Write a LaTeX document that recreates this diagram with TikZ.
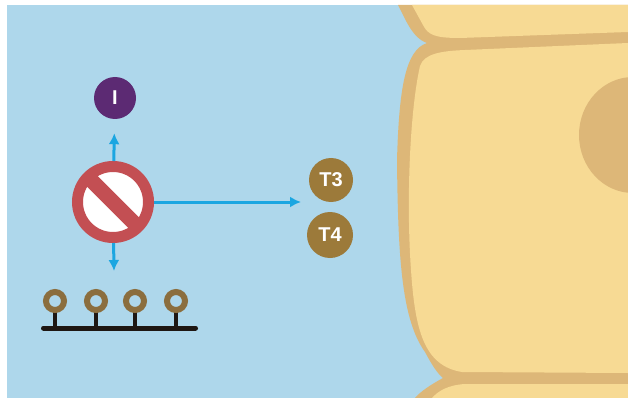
\documentclass[tikz,border=0pt]{standalone}
\usepackage{fontspec}
\setmainfont{Liberation Sans}
\usetikzlibrary{arrows.meta}

\definecolor{fluid}{HTML}{AED7EB}
\definecolor{cellfill}{HTML}{F7DA94}
\definecolor{cellwall}{HTML}{DDB778}
\definecolor{iodine}{HTML}{5C2A73}
\definecolor{stopred}{HTML}{C34F53}
\definecolor{flow}{HTML}{1BA6E1}
\definecolor{hormone}{HTML}{9C7A3A}
\definecolor{ringbrown}{HTML}{8B6E3E}
\definecolor{stem}{HTML}{1E1713}

\tikzset{
    mol/.style={circle, inner sep=0pt, text=white, font=\bfseries\fontsize{20}{20}\selectfont},
    flowarrow/.style={->, flow, line width=3pt},
}

\begin{document}
\begin{tikzpicture}[x=1pt, y=-1pt, >={Latex[length=11pt,width=11pt]}]
    \useasboundingbox (0,0) rectangle (628,398);
    \fill[fluid] (7,5) rectangle (628,398);

    % cell walls first, cell bodies on top of them
    \fill[cellwall] (398,5) .. controls (405,18) and (412,38) .. (427,43)
        .. controls (405,50) and (399,90) .. (397,160)
        .. controls (398,260) and (402,320) .. (425,352)
        .. controls (432,365) and (437,373) .. (443,378)
        .. controls (430,385) and (420,392) .. (415,398)
        -- (628,398) -- (628,5) -- cycle;
    \fill[cellfill] (412,5) -- (423,25) .. controls (428,35) and (435,38) .. (460,38) -- (628,32) -- (628,5) -- cycle;
    \fill[cellfill] (628,43) -- (465,50) .. controls (440,51) and (424,54) .. (420,66)
        .. controls (410,110) and (406,200) .. (411,270)
        .. controls (415,330) and (424,366) .. (462,372) -- (628,373) -- cycle;
    \fill[cellfill] (628,384) -- (465,384) .. controls (448,385) and (438,391) .. (432,398) -- (628,398) -- cycle;
    \begin{scope}
        \clip (0,0) rectangle (628,398);
        \fill[cellwall] (633,135) ellipse [x radius=54, y radius=58];
    \end{scope}

    \node[mol, fill=iodine, minimum size=42pt] (iod) at (115,98) {I};
    \node[mol, fill=hormone, minimum size=44pt] (t3) at (331,180) {T3};
    \node[mol, fill=hormone, minimum size=46pt] (t4) at (330,235) {T4};

    % no-entry sign
    \node[circle, draw=stopred, line width=11pt, fill=white, inner sep=0pt, minimum size=71pt] (block) at (113,202) {};
    \draw[stopred, line width=15pt] (block.center) +(-135:31) -- +(45:31);

    \coordinate (down) at (114,271);
    \coordinate (hit) at (301,202);
    \draw[flowarrow, shorten >=14pt] (block) -- (iod);
    \draw[flowarrow] (block) -- (down);
    \draw[flowarrow] (block) -- (hit);

    % chain
    \draw[stem, line width=5pt, line cap=round] (43.5,328) -- (195.5,328);
    \foreach \x in {55,96,135,176}
    {
        \draw[stem, line width=4.5pt] (\x,328) -- (\x,310);
        \draw[ringbrown, line width=6pt] (\x,301) circle (9);
    }
\end{tikzpicture}
\end{document}
